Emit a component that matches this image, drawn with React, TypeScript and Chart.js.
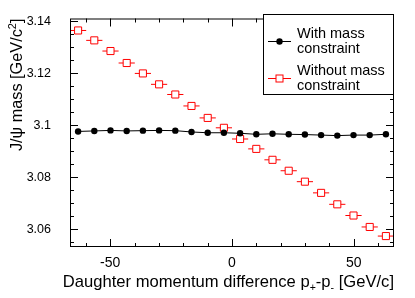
import React, { useEffect, useRef } from "react";
import { Chart, registerables } from "chart.js";

Chart.register(...registerables);

// ---- data ----
const binCenters = [
  -63.175, -56.525, -49.875, -43.225, -36.575, -29.925, -23.275, -16.625, -9.975, -3.325,
  3.325, 9.975, 16.625, 23.275, 29.925, 36.575, 43.225, 49.875, 56.525, 63.175,
];
const binHalfWidth = 3.325;
const withConstraint = [
  3.0976, 3.0978, 3.0980, 3.0978, 3.0979, 3.0980, 3.0979, 3.0974, 3.0971, 3.0971,
  3.0969, 3.0965, 3.0967, 3.0965, 3.0964, 3.0962, 3.0960, 3.0962, 3.0962, 3.0965,
];
const withoutConstraint = [
  3.1364, 3.1326, 3.1285, 3.1239, 3.1199, 3.1157, 3.1118, 3.1074, 3.1028, 3.0990,
  3.0947, 3.0909, 3.0867, 3.0825, 3.0783, 3.0740, 3.0696, 3.0653, 3.0609, 3.0574,
];
const xTickValues = [-50, 0, 50];
const yTickValues = [3.06, 3.08, 3.1, 3.12, 3.14];
const xRange = [-66.5, 66.5];
const yRange = [3.0532, 3.141];
const seriesLabels = [
  ["With mass", "constraint"],
  ["Without mass", "constraint"],
];

const RED = "#ff0000";
const FONT = '"Liberation Sans", Arial, Helvetica, sans-serif';

type Seg = { t: string; size: number; dy?: number };

function drawSegments(ctx: CanvasRenderingContext2D, segs: Seg[], xRight: number, baseline: number) {
  let total = 0;
  const widths = segs.map((s) => {
    ctx.font = `${s.size}px ${FONT}`;
    const w = ctx.measureText(s.t).width;
    total += w;
    return w;
  });
  let x = xRight - total;
  ctx.textAlign = "left";
  ctx.textBaseline = "alphabetic";
  segs.forEach((s, i) => {
    ctx.font = `${s.size}px ${FONT}`;
    ctx.fillText(s.t, x, baseline + (s.dy || 0));
    x += widths[i];
  });
}

const rootStyle = {
  id: "rootStyle",
  beforeDatasetsDraw(chart: any) {
    const { ctx } = chart;
    const xs = chart.scales.x;
    const ys = chart.scales.y;
    ctx.save();
    ctx.strokeStyle = RED;
    ctx.lineWidth = 1;
    binCenters.forEach((c, i) => {
      const y = ys.getPixelForValue(withoutConstraint[i]);
      ctx.beginPath();
      ctx.moveTo(xs.getPixelForValue(c - binHalfWidth), y);
      ctx.lineTo(xs.getPixelForValue(c + binHalfWidth), y);
      ctx.stroke();
    });
    ctx.restore();
  },
  afterDraw(chart: any) {
    const { ctx, chartArea } = chart;
    const { left, right, top, bottom } = chartArea;
    const xs = chart.scales.x;
    const ys = chart.scales.y;
    ctx.save();
    ctx.strokeStyle = "#000";
    ctx.fillStyle = "#000";
    ctx.lineWidth = 1;

    // ticks (inward, all four sides)
    ctx.beginPath();
    for (let v = -60; v <= 60; v += 10) {
      const major = xTickValues.includes(v);
      const len = major ? 8 : 4;
      const px = Math.round(xs.getPixelForValue(v)) + 0.5;
      ctx.moveTo(px, bottom);
      ctx.lineTo(px, bottom - len);
      ctx.moveTo(px, top);
      ctx.lineTo(px, top + len);
    }
    for (let k = 0; k <= 17; k++) {
      const v = 3.055 + k * 0.005;
      const major = yTickValues.some((t) => Math.abs(t - v) < 1e-6);
      const len = major ? 8 : 4;
      const py = Math.round(ys.getPixelForValue(v)) + 0.5;
      ctx.moveTo(left, py);
      ctx.lineTo(left + len, py);
      ctx.moveTo(right, py);
      ctx.lineTo(right - len, py);
    }
    ctx.stroke();

    // frame
    ctx.strokeRect(left + 0.5, top + 0.5, right - left - 1, bottom - top - 1);

    // legend
    const lx0 = 263.5, ly0 = 14.5, lx1 = right - 0.5, ly1 = 94.5;
    ctx.fillStyle = "#fff";
    ctx.fillRect(lx0, ly0, lx1 - lx0, ly1 - ly0);
    ctx.strokeStyle = "#000";
    ctx.strokeRect(lx0, ly0, lx1 - lx0, ly1 - ly0);

    const entryMid = [41, 78];
    const textX = 297;
    ctx.beginPath();
    ctx.moveTo(268, entryMid[0] + 0.5);
    ctx.lineTo(291, entryMid[0] + 0.5);
    ctx.stroke();
    ctx.fillStyle = "#000";
    ctx.beginPath();
    ctx.arc(279.5, entryMid[0] + 0.5, 3.2, 0, Math.PI * 2);
    ctx.fill();
    ctx.strokeStyle = RED;
    ctx.beginPath();
    ctx.moveTo(268, entryMid[1] + 0.5);
    ctx.lineTo(291, entryMid[1] + 0.5);
    ctx.stroke();
    ctx.fillStyle = "#fff";
    ctx.fillRect(276, entryMid[1] - 3, 7, 7);
    ctx.strokeRect(276, entryMid[1] - 3, 7, 7);

    ctx.fillStyle = "#000";
    ctx.font = `14.5px ${FONT}`;
    ctx.textAlign = "left";
    ctx.textBaseline = "alphabetic";
    seriesLabels.forEach((lines, i) => {
      const base = entryMid[i] - 3;
      ctx.fillText(lines[0], textX, base);
      ctx.fillText(lines[1], textX, base + 14.5);
    });

    // x title
    ctx.fillStyle = "#000";
    drawSegments(
      ctx,
      [
        { t: "Daughter momentum difference p", size: 16.6 },
        { t: "+", size: 10.5, dy: 4 },
        { t: "-p", size: 16.6 },
        { t: "-", size: 10.5, dy: 4 },
        { t: " [GeV/c]", size: 16.6 },
      ],
      right,
      287
    );

    // y title (rotated)
    ctx.save();
    ctx.translate(22, top);
    ctx.rotate(-Math.PI / 2);
    drawSegments(
      ctx,
      [
        { t: "J/\u03c8 mass [GeV/c", size: 16.3 },
        { t: "2", size: 11, dy: -6 },
        { t: "]", size: 16.3 },
      ],
      0,
      0
    );
    ctx.restore();

    ctx.restore();
  },
};

export default function App() {
  const canvasRef = useRef<HTMLCanvasElement | null>(null);

  useEffect(() => {
    if (!canvasRef.current) return;
    const chart = new Chart(canvasRef.current, {
      type: "scatter",
      data: {
        datasets: [
          {
            label: "With mass constraint",
            data: binCenters.map((x, i) => ({ x, y: withConstraint[i] })),
            showLine: true,
            borderColor: "#000",
            borderWidth: 1,
            pointRadius: 3.2,
            pointBackgroundColor: "#000",
            pointBorderColor: "#000",
            pointBorderWidth: 0,
          },
          {
            label: "Without mass constraint",
            data: binCenters.map((x, i) => ({ x, y: withoutConstraint[i] })),
            showLine: false,
            pointStyle: "rect",
            pointRadius: 5,
            pointBackgroundColor: "#fff",
            pointBorderColor: RED,
            pointBorderWidth: 1,
          },
        ],
      },
      options: {
        responsive: false,
        animation: false,
        devicePixelRatio: 1,
        layout: { padding: { left: 0, right: 21, top: 14, bottom: 0 } },
        plugins: { legend: { display: false }, tooltip: { enabled: false } },
        scales: {
          x: {
            type: "linear",
            min: xRange[0],
            max: xRange[1],
            grid: { display: false },
            border: { display: false },
            afterBuildTicks: (s: any) => {
              s.ticks = xTickValues.map((v) => ({ value: v }));
            },
            afterFit: (s: any) => {
              s.height = 51;
            },
            ticks: {
              autoSkip: false,
              maxRotation: 0,
              padding: 0,
              color: "#000",
              font: { family: FONT, size: 14 },
              callback: (v: any) => String(v),
            },
          },
          y: {
            type: "linear",
            min: yRange[0],
            max: yRange[1],
            grid: { display: false },
            border: { display: false },
            afterBuildTicks: (s: any) => {
              s.ticks = yTickValues.map((v) => ({ value: v }));
            },
            afterFit: (s: any) => {
              s.width = 70;
            },
            ticks: {
              autoSkip: false,
              padding: 11,
              color: "#000",
              font: { family: FONT, size: 12.5 },
              callback: (v: any) => String(Number(Number(v).toFixed(2))),
            },
          },
        },
      },
      plugins: [rootStyle],
    });
    return () => chart.destroy();
  }, []);

  return (
    <div style={{ position: "absolute", left: 0, top: 0, width: 415, height: 298, background: "#fff" }}>
      <canvas ref={canvasRef} width={415} height={298} style={{ width: 415, height: 298, display: "block" }} />
    </div>
  );
}
